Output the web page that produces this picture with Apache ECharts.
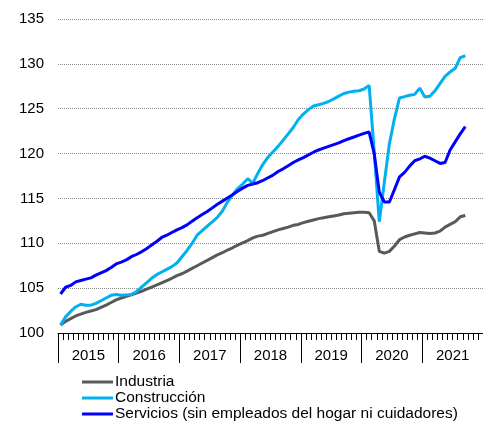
<!DOCTYPE html>
<html>
  <head>
    <meta charset="utf-8" />
    <title>Afiliación por sectores</title>
    <script src="https://cdn.jsdelivr.net/npm/echarts/dist/echarts.min.js"></script>
    <style>
      html, body { margin: 0; padding: 0; background: #fff; }
    </style>
  </head>
  <body>
    <div id="main" style="width: 483px; height: 424px"></div>
    <script type="text/javascript">
      // años del eje X (cada uno con 12 meses)
      var years = ['2015', '2016', '2017', '2018', '2019', '2020', '2021'];

      // series mensuales desde enero 2015 hasta septiembre 2021
      var industria = [
        100.9, 101.3, 101.6, 101.9, 102.1, 102.3, 102.45, 102.6, 102.85, 103.1, 103.4, 103.7,
        103.9, 104.1, 104.25, 104.45, 104.65, 104.9, 105.1, 105.35, 105.6, 105.85, 106.1, 106.4,
        106.6, 106.9, 107.2, 107.5, 107.8, 108.1, 108.4, 108.7, 108.95, 109.25, 109.5, 109.8,
        110.05, 110.3, 110.6, 110.8, 110.9, 111.1, 111.3, 111.5, 111.65, 111.8, 112.0, 112.1,
        112.3, 112.45, 112.6, 112.75, 112.85, 112.95, 113.05, 113.15, 113.3, 113.35, 113.4, 113.45,
        113.45, 113.4, 112.5, 109.1, 108.9, 109.1, 109.7, 110.4, 110.7, 110.9, 111.05, 111.2,
        111.15, 111.1, 111.15, 111.35, 111.8, 112.1, 112.4, 112.95, 113.1
      ];
      var construccion = [
        100.9, 101.8, 102.4, 102.9, 103.2, 103.1, 103.1, 103.3, 103.6, 103.9, 104.2, 104.3,
        104.2, 104.25, 104.3, 104.6, 105.1, 105.6, 106.1, 106.5, 106.8, 107.1, 107.4, 107.8,
        108.5, 109.2, 110.0, 110.9, 111.4, 111.9, 112.4, 112.9, 113.6, 114.6, 115.4, 116.1,
        116.6, 117.2, 116.7, 117.8, 118.8, 119.6, 120.2, 120.8, 121.5, 122.2, 122.9, 123.8,
        124.4, 124.9, 125.3, 125.45, 125.6, 125.8, 126.1, 126.4, 126.7, 126.85, 126.95, 127.0,
        127.2, 127.6, 120.2, 112.4, 116.8, 121.1, 123.9, 126.2, 126.35, 126.5, 126.6, 127.3,
        126.3, 126.4, 127.0, 127.8, 128.6, 129.1, 129.5, 130.7, 130.9
      ];
      var servicios = [
        104.35, 105.1, 105.3, 105.7, 105.85, 106.0, 106.15, 106.45, 106.7, 106.95, 107.3, 107.7,
        107.9, 108.15, 108.5, 108.75, 109.05, 109.4, 109.8, 110.2, 110.65, 110.9, 111.2, 111.5,
        111.75, 112.05, 112.45, 112.85, 113.2, 113.55, 113.95, 114.35, 114.7, 115.05, 115.4, 115.8,
        116.15, 116.45, 116.6, 116.75, 117.0, 117.3, 117.6, 118.0, 118.3, 118.65, 119.0, 119.3,
        119.55, 119.85, 120.15, 120.4, 120.6, 120.8, 121.0, 121.2, 121.45, 121.65, 121.85, 122.05,
        122.25, 122.4, 120.0, 115.7, 114.6, 114.6, 116.0, 117.4, 117.9, 118.6, 119.2, 119.4,
        119.7, 119.5, 119.2, 118.9, 119.0, 120.4, 121.3, 122.2, 123.0
      ];

      var seriesNames = [
        'Industria',
        'Construcción',
        'Servicios (sin empleados del hogar ni cuidadores)'
      ];
      var seriesColors = ['#595959', '#00b0f0', '#0000ff'];
      var seriesValues = [industria, construccion, servicios];

      var font = "'Liberation Sans', Arial, sans-serif";
      var myChart = echarts.init(document.getElementById('main'));

      // eje en meses: cada dato a mitad de su mes
      function toPoints(arr) {
        return arr.map(function (v, i) {
          return [i + 0.5, v];
        });
      }

      var option = {
        animation: false,
        textStyle: { fontFamily: font },
        grid: { left: 58, top: 19, width: 428, height: 314 },
        legend: {
          orient: 'vertical',
          left: 82,
          top: 374,
          padding: 0,
          icon: 'rect',
          itemWidth: 31,
          itemHeight: 3,
          itemGap: 0,
          textStyle: {
            fontFamily: font,
            fontSize: 15.5,
            color: '#000',
            lineHeight: 16,
            padding: [0, 0, 0, -3]
          },
          data: seriesNames
        },
        xAxis: [
          {
            // meses: separador largo cada año, tick corto cada mes
            type: 'value',
            min: 0,
            max: years.length * 12,
            interval: 12,
            position: 'bottom',
            axisLine: { show: true, lineStyle: { color: '#000', width: 1 } },
            axisTick: { show: true, length: 30, lineStyle: { color: '#000' } },
            minorTick: { show: true, splitNumber: 12, length: 7, lineStyle: { color: '#000', width: 1 } },
            axisLabel: { show: false },
            splitLine: { show: false },
            minorSplitLine: { show: false }
          },
          {
            // etiquetas de año centradas
            type: 'category',
            data: years,
            position: 'bottom',
            boundaryGap: true,
            axisLine: { show: false },
            axisTick: { show: false },
            axisLabel: { fontFamily: font, fontSize: 15, color: '#000', margin: 15 },
            splitLine: { show: false }
          }
        ],
        yAxis: {
          type: 'value',
          min: 100,
          max: 135,
          interval: 5,
          axisLine: { show: false },
          axisTick: { show: false },
          axisLabel: { fontFamily: font, fontSize: 15, color: '#000', margin: 14 },
          splitLine: {
            show: true,
            lineStyle: { type: [1, 1], color: '#8a8a8a', width: 1 }
          }
        },
        series: seriesValues.map(function (vals, k) {
          return {
            name: seriesNames[k],
            type: 'line',
            xAxisIndex: 0,
            data: toPoints(vals),
            showSymbol: false,
            symbol: 'none',
            color: seriesColors[k],
            lineStyle: { width: 3, color: seriesColors[k] }
          };
        })
      };

      myChart.setOption(option);
    </script>
  </body>
</html>
